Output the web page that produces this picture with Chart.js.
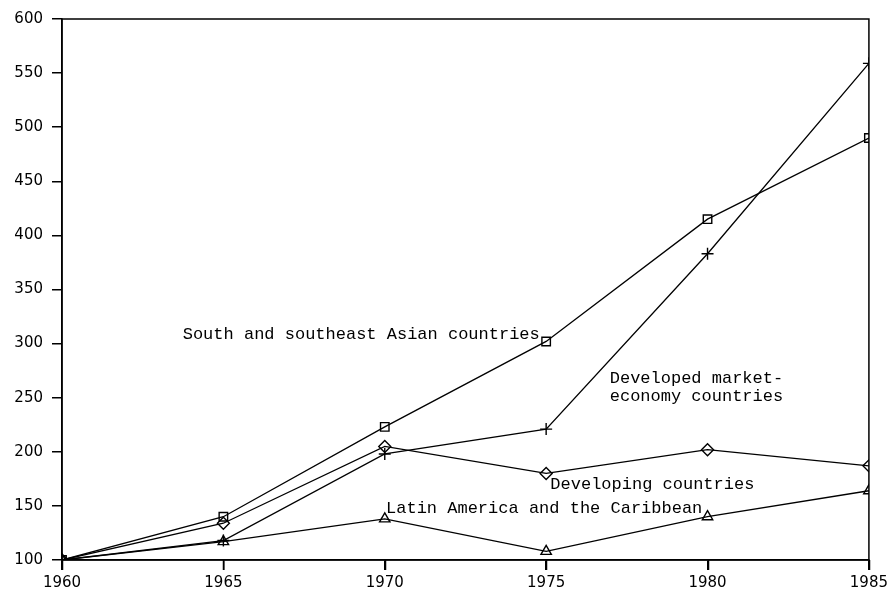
<!DOCTYPE html>
<html>
<head>
<meta charset="utf-8">
<script src="https://cdn.jsdelivr.net/npm/chart.js@4"></script>
<style>
  html, body { margin: 0; padding: 0; background: #fff; }
  #wrap { width: 892px; height: 592px; }
</style>
</head>
<body>
<div id="wrap"><canvas id="myChart" width="892" height="592"></canvas></div>
<script>
const years = [1960, 1965, 1970, 1975, 1980, 1985];
const southAsia = [100, 140, 223, 302, 415, 490]; // squares
const developed = [100, 118, 198, 221, 383, 559]; // plus signs
const developing = [100, 134, 205, 180, 202, 187]; // diamonds
const latinAmerica = [100, 117, 138, 108, 140, 164]; // triangles
const yTicks = [100, 150, 200, 250, 300, 350, 400, 450, 500, 550, 600];

// text notes written on the plot (anchor in data units, left aligned)
const notes = [
  { lines: ["South and southeast Asian countries"], x: 1963.74, y: 308 },
  { lines: ["Developed market-", "economy countries"], x: 1976.97, y: 268 },
  { lines: ["Developing countries"], x: 1975.13, y: 170 },
  { lines: ["Latin America and the Caribbean"], x: 1970.04, y: 148 },
];

const toPoints = (vals) => vals.map((v, i) => ({ x: years[i], y: v }));

function series(label, vals, style) {
  return {
    label: label,
    data: toPoints(vals),
    borderColor: "#000",
    borderWidth: 1.3,
    tension: 0,
    fill: false,
    pointStyle: style,
    pointRadius: 6,
    pointBorderWidth: 1.4,
    pointBorderColor: "#000",
    pointBackgroundColor: "rgba(0,0,0,0)",
  };
}

const frame = {
  id: "frame",
  afterDatasetsDraw(chart) {
    const { ctx, chartArea: a, scales } = chart;
    ctx.save();
    ctx.strokeStyle = "#000";
    ctx.lineWidth = 1.5;
    ctx.strokeRect(a.left, a.top, a.right - a.left, a.bottom - a.top);
    // tick marks under the x axis
    ctx.beginPath();
    years.forEach((yr) => {
      const px = Math.round(scales.x.getPixelForValue(yr)) + 0.5;
      ctx.moveTo(px, a.bottom);
      ctx.lineTo(px, a.bottom + 10);
    });
    ctx.stroke();
    ctx.fillStyle = "#000";
    ctx.font = "17px 'Liberation Mono', monospace";
    ctx.textBaseline = "middle";
    ctx.textAlign = "left";
    notes.forEach((n) => {
      const px = scales.x.getPixelForValue(n.x);
      const py = scales.y.getPixelForValue(n.y);
      n.lines.forEach((t, i) => ctx.fillText(t, px, py + i * 18));
    });
    ctx.restore();
  },
};

const ctx = document.getElementById("myChart");
const data = {
  datasets: [
    series("South and southeast Asian countries", southAsia, "rect"),
    series("Developed market-economy countries", developed, "cross"),
    series("Developing countries", developing, "rectRot"),
    series("Latin America and the Caribbean", latinAmerica, "triangle"),
  ],
};
const config = {
  type: "line",
  data: data,
  options: {
    responsive: false,
    animation: false,
    layout: { padding: { left: 0, right: 21, top: 19, bottom: 0 } },
    plugins: { legend: { display: false }, tooltip: { enabled: false } },
    scales: {
      x: {
        type: "linear",
        min: 1960,
        max: 1985,
        afterFit: (s) => { s.height = 32; },
        afterBuildTicks: (s) => { s.ticks = years.map((v) => ({ value: v })); },
        grid: { drawOnChartArea: false, drawTicks: true, tickLength: 10, color: "#000", lineWidth: 1.5 },
        border: { display: true, color: "#000", width: 1.5 },
        ticks: {
          color: "#000",
          padding: 4,
          maxRotation: 0,
          font: { family: "'DejaVu Sans', sans-serif", size: 15 },
          callback: (v) => String(v),
        },
      },
      y: {
        type: "linear",
        min: 100,
        max: 600,
        afterFit: (s) => { s.width = 62; },
        afterBuildTicks: (s) => { s.ticks = yTicks.map((v) => ({ value: v })); },
        grid: { drawOnChartArea: false, drawTicks: true, tickLength: 10, color: "#000", lineWidth: 1.5 },
        border: { display: true, color: "#000", width: 1.5 },
        ticks: {
          color: "#000",
          padding: 9,
          font: { family: "'DejaVu Sans', sans-serif", size: 15 },
        },
      },
    },
  },
  plugins: [frame],
};
const myChart = new Chart(ctx, config);
</script>
</body>
</html>
